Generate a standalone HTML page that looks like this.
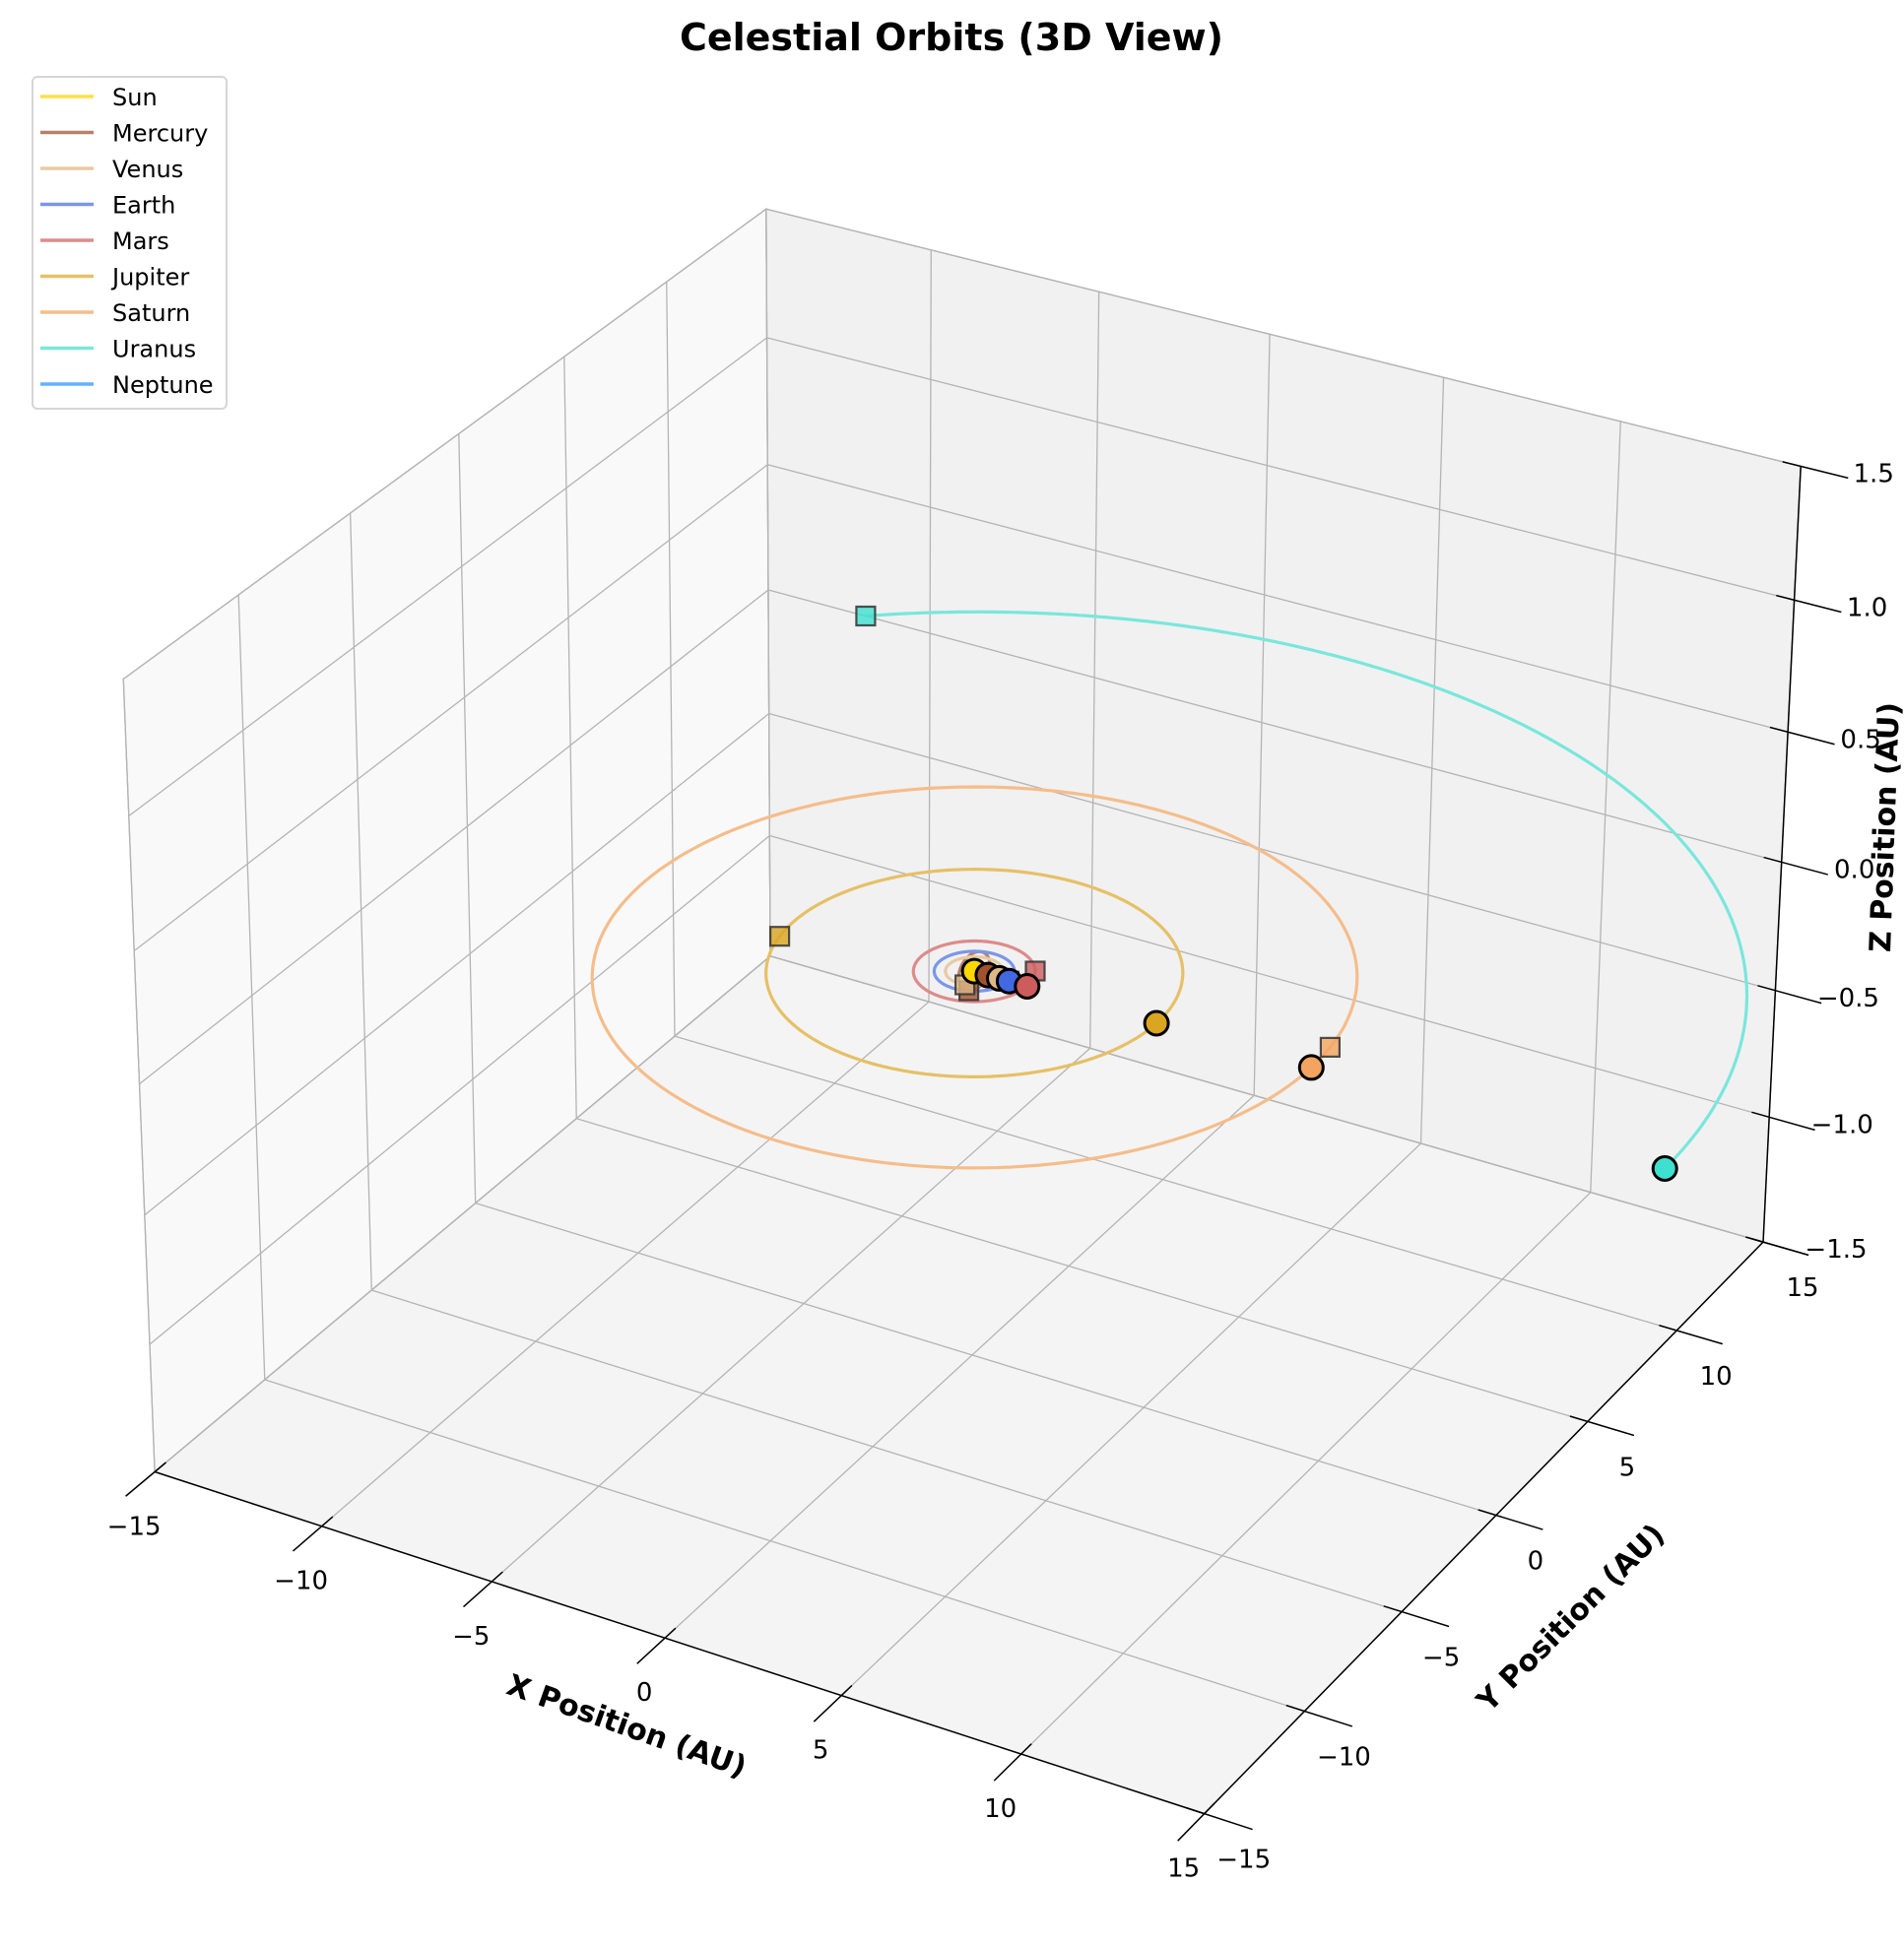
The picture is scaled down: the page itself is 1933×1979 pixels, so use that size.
<!DOCTYPE html>
<html>
<head>
<meta charset="utf-8">
<style>
  html, body { margin:0; padding:0; background:#fff; }
  svg { display:block; font-family:"DejaVu Sans","Liberation Sans",sans-serif; }
</style>
</head>
<body>
<svg id="chart" width="1933" height="1979" viewBox="0 0 1933 1979" xmlns="http://www.w3.org/2000/svg">
  <rect x="0" y="0" width="1933" height="1979" fill="#ffffff"/>
  <g id="panes"></g>
  <g id="grid"></g>
  <g id="axes"></g>
  <g id="ticks"></g>
  <g id="orbits"></g>
  <g id="markers"></g>
  <text x="966" y="38" text-anchor="middle" dominant-baseline="central" font-size="38" font-weight="bold" fill="#000">Celestial Orbits (3D View)</text>
  <text transform="translate(636,1753) rotate(19.6)" text-anchor="middle" dominant-baseline="central" font-size="30" font-weight="bold" fill="#000">X Position (AU)</text>
  <text transform="translate(1595,1643) rotate(-45)" text-anchor="middle" dominant-baseline="central" font-size="30" font-weight="bold" fill="#000">Y Position (AU)</text>
  <text transform="translate(1914,840) rotate(-88)" text-anchor="middle" dominant-baseline="central" font-size="30" font-weight="bold" fill="#000">Z Position (AU)</text>
  <g id="legend">
    <rect x="33" y="78" width="197" height="337" rx="5" ry="5" fill="#ffffff" stroke="#d6d6d6" stroke-width="2"/>
  </g>
</svg>
<script>
// ---- data ----
const bodyNames = ["Sun","Mercury","Venus","Earth","Mars","Jupiter","Saturn","Uranus","Neptune"];
const lineColors = ["#fde047","#b7806a","#e8caa4","#7b96e8","#dd8b8b","#e6c066","#f5bd8b","#79e7db","#63b1ff"];
const markerColors = ["#FFD700","#A0522D","#DEB887","#4169E1","#CD5C5C","#DAA520","#F4A460","#40E0D0","#1E90FF"];
const orbitRadius = [0, 0.39, 0.72, 1.0, 1.52, 5.2, 9.54, 19.2, 30.07];
const sweepDeg = [0, 640, 641, 720, 390, 910, 366.6, 128.6, 65.5];
const inclinationDeg = [0, 7, 0, 0, 0, 0, 0, 0, 0];
const xTicks = [-15,-10,-5,0,5,10,15];
const yTicks = [-15,-10,-5,0,5,10,15];
const zTicks = [-1.5,-1.0,-0.5,0.0,0.5,1.0,1.5];
const zTickLabels = ["\u22121.5","\u22121.0","\u22120.5","0.0","0.5","1.0","1.5"];

// ---- projection calibration (axis frame) ----
const calib = [
  [-15,-15,-1.5,160,1493],[15,-15,-1.5,1220,1843],[15,15,-1.5,1791,1259],[-15,15,-1.5,779,974],
  [-15,-15,1.5,123,690],[15,15,1.5,1827,476],[-15,15,1.5,780,212],[15,15,0,1810,875],
  [-15,15,0,779,598],[0,0,0,991,982],[0,-15,-1.5,676,1665]
];
function solveDLT(){
  const A=[], b=[];
  calib.forEach(c=>{
    const X=c[0]/15,Y=c[1]/15,Z=c[2]/1.5,u=c[3]/1000,v=c[4]/1000;
    A.push([X,Y,Z,1,0,0,0,0,-u*X,-u*Y,-u*Z]); b.push(u);
    A.push([0,0,0,0,X,Y,Z,1,-v*X,-v*Y,-v*Z]); b.push(v);
  });
  const n=11, M=[];
  for(let i=0;i<n;i++){M.push(new Array(n+1).fill(0));}
  for(let r=0;r<A.length;r++){
    for(let i=0;i<n;i++){
      for(let j=0;j<n;j++) M[i][j]+=A[r][i]*A[r][j];
      M[i][n]+=A[r][i]*b[r];
    }
  }
  for(let i=0;i<n;i++){
    let p=i; for(let k=i+1;k<n;k++) if(Math.abs(M[k][i])>Math.abs(M[p][i])) p=k;
    [M[i],M[p]]=[M[p],M[i]];
    for(let k=0;k<n;k++){ if(k===i) continue; const f=M[k][i]/M[i][i]; for(let j=i;j<=n;j++) M[k][j]-=f*M[i][j]; }
  }
  return M.map((row,i)=>row[n]/row[i]);
}
const P = solveDLT();
function proj(x,y,z){
  const X=x/15,Y=y/15,Z=z/1.5;
  const w=P[8]*X+P[9]*Y+P[10]*Z+1;
  return [(P[0]*X+P[1]*Y+P[2]*Z+P[3])/w*1000,(P[4]*X+P[5]*Y+P[6]*Z+P[7])/w*1000];
}

const NS="http://www.w3.org/2000/svg";
function mk(tag,attrs,parent){
  const e=document.createElementNS(NS,tag);
  for(const k in attrs) e.setAttribute(k,attrs[k]);
  parent.appendChild(e); return e;
}
function poly(pts){ return pts.map(p=>p[0].toFixed(1)+","+p[1].toFixed(1)).join(" "); }

const gPanes=document.getElementById('panes'), gGrid=document.getElementById('grid'),
      gAxes=document.getElementById('axes'), gTicks=document.getElementById('ticks'),
      gOrb=document.getElementById('orbits'), gMark=document.getElementById('markers'),
      gLeg=document.getElementById('legend');
const X0=-15,X1=15,Y0=-15,Y1=15,Z0=-1.5,Z1=1.5;
const DRAW_LIMIT=25; // bodies beyond this radius fall outside the rendered view

let e;
e=mk('polygon',{points:poly([proj(X0,Y0,Z0),proj(X0,Y1,Z0),proj(X0,Y1,Z1),proj(X0,Y0,Z1)]),fill:'#f9f9f9',stroke:'#b0b0b0','stroke-width':1.3},gPanes);


e=mk('polygon',{points:poly([proj(X0,Y1,Z0),proj(X1,Y1,Z0),proj(X1,Y1,Z1),proj(X0,Y1,Z1)]),fill:'#f1f1f1',stroke:'#b0b0b0','stroke-width':1.3},gPanes);


e=mk('polygon',{points:poly([proj(X0,Y0,Z0),proj(X1,Y0,Z0),proj(X1,Y1,Z0),proj(X0,Y1,Z0)]),fill:'#f4f4f4',stroke:'#b0b0b0','stroke-width':1.3},gPanes);



function gline(a,b,name){
  const l=mk('line',{x1:a[0],y1:a[1],x2:b[0],y2:b[1],stroke:'#b4b4b4','stroke-width':1.3},gGrid);
  
  
}
xTicks.forEach(x=>{ gline(proj(x,Y0,Z0),proj(x,Y1,Z0),'floor-grid-x'); gline(proj(x,Y1,Z0),proj(x,Y1,Z1),'wall-grid-x'); });
yTicks.forEach(y=>{ gline(proj(X0,y,Z0),proj(X1,y,Z0),'floor-grid-y'); gline(proj(X0,y,Z0),proj(X0,y,Z1),'wall-grid-y'); });
zTicks.forEach(z=>{ gline(proj(X0,Y0,z),proj(X0,Y1,z),'wall-grid-z'); gline(proj(X0,Y1,z),proj(X1,Y1,z),'wall-grid-z'); });

function aline(a,b,name){
  const l=mk('line',{x1:a[0],y1:a[1],x2:b[0],y2:b[1],stroke:'#000','stroke-width':1.5},gAxes);
  
  
}
aline(proj(X0,Y0,Z0),proj(X1,Y0,Z0),'x-axis-line');
aline(proj(X1,Y0,Z0),proj(X1,Y1,Z0),'y-axis-line');
aline(proj(X1,Y1,Z0),proj(X1,Y1,Z1),'z-axis-line');

function tick(a,b,name){
  const l=mk('line',{x1:a[0],y1:a[1],x2:b[0],y2:b[1],stroke:'#000','stroke-width':1.5},gTicks);
  
  
}
function tlabel(p,dx,dy,txt,name){
  const t=mk('text',{x:(p[0]+dx).toFixed(1),y:(p[1]+dy).toFixed(1),'text-anchor':'middle','dominant-baseline':'central','font-size':26,fill:'#000'},gTicks);
  t.textContent=txt;
  
  
}
function fmt(v){ return v<0 ? "\u2212"+Math.abs(v) : String(v); }
xTicks.forEach(x=>{
  tick(proj(x,Y0+0.5,Z0),proj(x,Y0-1.3,Z0),'x-tick');
  tlabel(proj(x,Y0,Z0),-21,56,fmt(x),'x-tick-label');
});
yTicks.forEach(y=>{
  tick(proj(X1-0.5,y,Z0),proj(X1+1.3,y,Z0),'y-tick');
  tlabel(proj(X1,y,Z0),40,47,fmt(y),'y-tick-label');
});
zTicks.forEach((z,i)=>{
  tick(proj(X1-0.5,Y1,z),proj(X1+1.3,Y1,z),'z-tick');
  tlabel(proj(X1,Y1,z),74,8,zTickLabels[i],'z-tick-label');
});

const deg=Math.PI/180;
function orbitPoint(i,thDeg){
  const r=orbitRadius[i], th=thDeg*deg;
  const z=r*Math.sin(inclinationDeg[i]*deg)*Math.sin(th);
  return proj(r*Math.cos(th),r*Math.sin(th),z);
}
const squares=[], circles=[];
bodyNames.forEach((name,i)=>{
  if(orbitRadius[i]>DRAW_LIMIT) return;
  if(orbitRadius[i]>0){
    const span=Math.min(sweepDeg[i],360), N=400, pts=[];
    for(let k=0;k<=N;k++) pts.push(orbitPoint(i,span*k/N));
    const pl=mk('polyline',{points:poly(pts),fill:'none',stroke:lineColors[i],'stroke-width':3.2,'stroke-linejoin':'round'},gOrb);
    
    
    squares.push(i);
  }
  circles.push(i);
});
squares.forEach(i=>{
  const p=orbitPoint(i,sweepDeg[i]%360);
  const s=mk('rect',{x:(p[0]-9.5).toFixed(1),y:(p[1]-9.5).toFixed(1),width:19,height:19,fill:markerColors[i],'fill-opacity':0.8,stroke:'#333','stroke-opacity':0.85,'stroke-width':2.2},gMark);
  
  
});
circles.forEach(i=>{
  const p=orbitPoint(i,0);
  const c=mk('circle',{cx:p[0].toFixed(1),cy:p[1].toFixed(1),r:12,fill:markerColors[i],stroke:'#000','stroke-width':3},gMark);
  
  
});

bodyNames.forEach((name,i)=>{
  const y=98+i*36.5;
  const l=mk('line',{x1:41,y1:y,x2:95,y2:y,stroke:lineColors[i],'stroke-width':3.5},gLeg);
  
  
  const t=mk('text',{x:114,y:y+1,'dominant-baseline':'central','font-size':24,fill:'#000'},gLeg);
  t.textContent=name;
  
  
});
</script>
</body>
</html>
